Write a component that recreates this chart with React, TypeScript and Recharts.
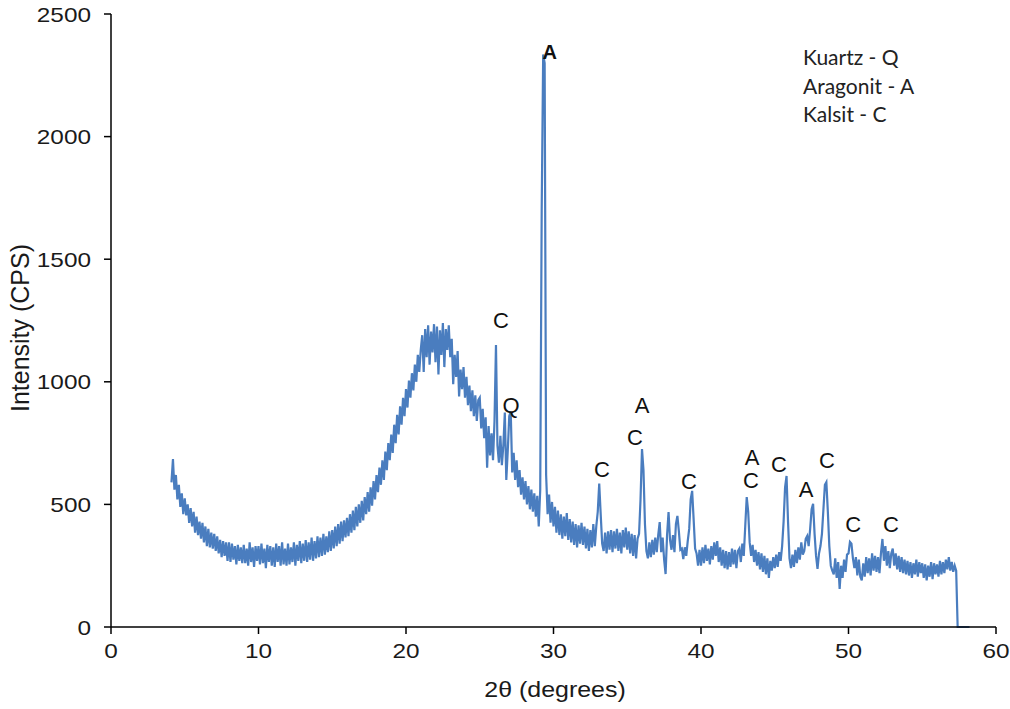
import { Line, LineChart, ReferenceDot, XAxis, YAxis } from "recharts";

// scan grid of the diffractogram
const TWO_THETA_START = 4.1;
const TWO_THETA_STEP = 0.1;

// intensity (CPS), one row per degree
const intensity: number[] = [
  590, 685, 560, 620, 520, 580, 490, 545, 460,
  525, 455, 500, 425, 485, 410, 470, 385, 450, 375,
  430, 360, 425, 345, 410, 330, 400, 325, 385, 320,
  380, 310, 370, 300, 355, 285, 350, 290, 345, 270,
  345, 265, 340, 275, 330, 255, 335, 270, 325, 260,
  335, 260, 320, 250, 345, 265, 325, 245, 330, 270,
  330, 255, 340, 260, 320, 240, 335, 265, 330, 250,
  325, 245, 340, 265, 330, 250, 345, 255, 320, 250,
  340, 255, 325, 265, 345, 250, 335, 270, 350, 260,
  340, 270, 355, 265, 345, 275, 365, 270, 350, 280,
  370, 285, 365, 290, 380, 295, 370, 305, 390, 310,
  395, 320, 410, 330, 420, 340, 430, 350, 435, 365,
  445, 370, 460, 385, 475, 395, 490, 410, 500, 425,
  515, 435, 530, 460, 550, 470, 570, 495, 595, 520,
  620, 550, 650, 580, 680, 600, 715, 640, 750, 680,
  785, 710, 825, 750, 865, 785, 900, 825, 935, 860,
  970, 895, 1005, 935, 1035, 965, 1070, 1000, 1110, 1040,
  1130, 1190, 1040, 1215, 1100, 1230, 1070, 1205, 1120, 1235,
  1080, 1225, 1030, 1210, 1110, 1240, 1060, 1215, 1130, 1230,
  1100, 1175, 990, 1110, 1020, 1125, 940, 1050, 970, 1060,
  935, 1020, 905, 985, 880, 965, 860, 945, 840, 925,
  935, 810, 890, 770, 855, 650, 820, 700, 790, 680,
  840, 1150, 740, 670, 780, 660, 740, 875, 600, 720,
  860, 880, 630, 710, 600, 680, 570, 640, 540, 610,
  520, 595, 500, 575, 480, 560, 470, 545, 450, 535,
  410, 560, 1700, 2335, 2300, 620, 460, 540, 425, 510,
  410, 490, 385, 475, 375, 460, 360, 450, 370, 465,
  355, 440, 345, 430, 335, 420, 325, 415, 340, 425,
  335, 410, 320, 400, 310, 395, 325, 420, 330, 410,
  470, 585, 460, 340, 310, 385, 300, 390, 315, 395,
  305, 390, 320, 400, 310, 385, 300, 395, 325, 405,
  315, 390, 300, 380, 290, 375, 280, 360, 380, 520,
  726, 640, 420, 310, 280, 345, 285, 355, 295, 365,
  305, 375, 428, 305, 365, 275, 216, 375, 469, 355,
  315, 375, 305, 420, 453, 390, 315, 320, 277, 325,
  290, 350, 400, 520, 555, 440, 320, 300, 250, 315,
  250, 325, 260, 335, 270, 320, 255, 330, 275, 345,
  290, 350, 265, 325, 250, 315, 240, 310, 235, 305,
  245, 320, 255, 315, 240, 310, 320, 265, 340, 290,
  412, 530, 470, 345, 290, 335, 265, 315, 250, 305,
  235, 300, 225, 290, 215, 280, 200, 270, 230, 285,
  240, 295, 245, 305, 270, 330, 430, 570, 616, 430,
  280, 240, 295, 245, 315, 260, 325, 275, 345, 295,
  310, 360, 371, 330, 400, 480, 502, 380, 290, 237,
  300, 330, 380, 480, 580, 591, 470, 330, 250, 230,
  215, 280, 200, 265, 155, 250, 200, 275, 225, 295,
  300, 347, 340, 280, 240, 285, 210, 275, 205, 190,
  260, 205, 285, 220, 280, 210, 300, 230, 290, 225,
  285, 220, 300, 359, 270, 330, 250, 310, 240, 300,
  320, 250, 300, 235, 290, 225, 285, 220, 275, 215,
  270, 210, 265, 200, 260, 215, 275, 205, 265, 220,
  260, 200, 255, 190, 250, 205, 265, 195, 260, 215,
  255, 205, 270, 215, 265, 220, 275, 235, 285, 230,
  265, 225, 250, 230, 0, 0, 0, 0, 0, 0,
  0, 0, 0,
];

const xTicks = [0, 10, 20, 30, 40, 50, 60];
const yTicks = [0, 500, 1000, 1500, 2000, 2500];

// phase letters written above the peaks
const peakLabels = [
  { phase: "C", twoTheta: 26.44, cps: 1251 },
  { phase: "Q", twoTheta: 27.12, cps: 904 },
  { phase: "C", twoTheta: 33.29, cps: 642 },
  { phase: "C", twoTheta: 35.53, cps: 773 },
  { phase: "A", twoTheta: 36.0, cps: 904 },
  { phase: "C", twoTheta: 39.19, cps: 593 },
  { phase: "C", twoTheta: 43.39, cps: 598 },
  { phase: "A", twoTheta: 43.46, cps: 691 },
  { phase: "C", twoTheta: 45.29, cps: 663 },
  { phase: "A", twoTheta: 47.12, cps: 561 },
  { phase: "C", twoTheta: 48.54, cps: 680 },
  { phase: "C", twoTheta: 50.31, cps: 418 },
  { phase: "C", twoTheta: 52.88, cps: 418 },
];
const mainPeak = { phase: "A", twoTheta: 29.75, cps: 2345 };

const phaseKey = ["Kuartz - Q", "Aragonit - A", "Kalsit - C"];

const font = "'Liberation Sans', Arial, sans-serif";
const ink = "#1a1a1a";
// the source figure is a little wider than tall, so the lettering is stretched
const STRETCH = 1.16;

function StretchTick({ x, y, payload, anchor, dy }: any) {
  return (
    <text
      x={x}
      y={y}
      dy={dy}
      textAnchor={anchor}
      fill={ink}
      fontSize={21}
      fontFamily={font}
      transform={`translate(${x} 0) scale(${STRETCH} 1) translate(${-x} 0)`}
    >
      {payload.value}
    </text>
  );
}

export default function App() {
  const spectrum = intensity.map((v, i) => ({
    twoTheta: +(TWO_THETA_START + i * TWO_THETA_STEP).toFixed(1),
    intensity: v,
  }));

  return (
    <div style={{ position: "absolute", left: 0, top: 0, width: 1010, height: 709, background: "#fff" }}>
      <LineChart width={1010} height={709} data={spectrum} margin={{ top: 14, right: 14, bottom: 0, left: 0 }}>
        <XAxis
          dataKey="twoTheta"
          type="number"
          domain={[0, 60]}
          ticks={xTicks}
          height={82}
          tickSize={7}
          tickMargin={9}
          axisLine={{ stroke: "#000", strokeWidth: 1.5 }}
          tickLine={{ stroke: "#000", strokeWidth: 1.5 }}
          tick={(p: any) => <StretchTick {...p} anchor="middle" dy="0.71em" />}
        />
        <YAxis
          type="number"
          domain={[0, 2500]}
          ticks={yTicks}
          width={111}
          tickSize={7}
          tickMargin={13}
          axisLine={{ stroke: "#000", strokeWidth: 1.5 }}
          tickLine={{ stroke: "#000", strokeWidth: 1.5 }}
          tick={(p: any) => <StretchTick {...p} anchor="end" dy="0.36em" />}
        />
        <Line
          dataKey="intensity"
          type="linear"
          stroke="#4a7dbf"
          strokeWidth={2.2}
          dot={false}
          isAnimationActive={false}
        />
        {peakLabels.map((p, i) => (
          <ReferenceDot
            key={i}
            x={p.twoTheta}
            y={p.cps}
            r={0}
            stroke="none"
            label={{ value: p.phase, position: "center", fill: "#111", fontSize: 22, fontFamily: font }}
          />
        ))}
        <ReferenceDot
          x={mainPeak.twoTheta}
          y={mainPeak.cps}
          r={0}
          stroke="none"
          label={{ value: mainPeak.phase, position: "center", fill: "#111", fontSize: 20, fontWeight: 700, fontFamily: font }}
        />
      </LineChart>
      <div
        style={{
          position: "absolute",
          left: 555,
          top: 690,
          transform: `translate(-50%, -50%) scaleX(${STRETCH})`,
          whiteSpace: "nowrap",
          fontFamily: font,
          fontSize: 21.5,
          color: ink,
        }}
      >
        2θ (degrees)
      </div>
      <div
        style={{
          position: "absolute",
          left: 20,
          top: 328,
          transform: "translate(-50%, -50%) rotate(-90deg)",
          whiteSpace: "nowrap",
          fontFamily: font,
          fontSize: 25,
          color: ink,
        }}
      >
        Intensity (CPS)
      </div>
      <div
        style={{
          position: "absolute",
          left: 803,
          top: 43,
          fontFamily: "Lato, 'Open Sans', sans-serif",
          fontSize: 21,
          lineHeight: "28.5px",
          color: "#222",
        }}
      >
        {phaseKey.map((t) => (
          <div key={t}>{t}</div>
        ))}
      </div>
    </div>
  );
}
